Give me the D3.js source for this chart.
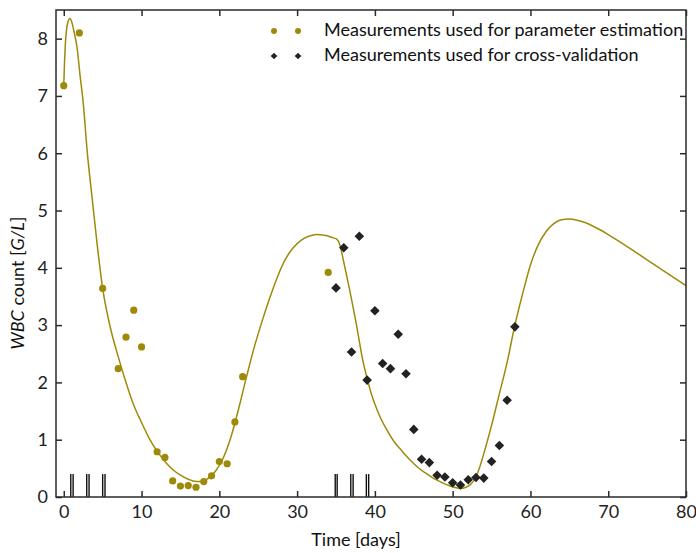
<!DOCTYPE html>
<html><head><meta charset="utf-8">
<script src="https://cdn.jsdelivr.net/npm/d3@7"></script>
<style>
html,body{margin:0;padding:0;background:#fff;}
svg{display:block;font-family:Lato,"Open Sans",sans-serif;}
</style></head>
<body><svg id="c" width="696" height="553"></svg>
<script>
// Parameter-estimation measurements (olive circles)
const estDays = [0,2,5,7,8,9,10,12,13,14,15,16,17,18,19,20,21,22,23,34];
const estWBC  = [7.18,8.1,3.64,2.24,2.79,3.26,2.62,0.79,0.69,0.28,0.19,0.2,0.17,0.27,0.37,0.62,0.58,1.31,2.1,3.92];
// Cross-validation measurements (black diamonds)
const cvDays = [35,36,37,38,39,40,41,42,43,44,45,46,47,48,49,50,51,52,53,54,55,56,57,58];
const cvWBC  = [3.65,4.35,2.53,4.55,2.04,3.25,2.33,2.24,2.84,2.15,1.18,0.66,0.6,0.38,0.35,0.25,0.21,0.3,0.34,0.33,0.62,0.9,1.69,2.97];
// Model simulation (olive line)
const modelDays = [0,0.1,0.2,0.35,0.55,0.8,1.05,1.35,1.7,2.1,2.5,3.0,3.7,4.3,5,6,7,8,9,10,11,12,13,14,15,16,17,17.8,18.5,19.5,20.5,21.5,22.5,23.5,24.5,25.5,26.5,27.5,28.5,29.5,30.5,31.5,32.5,33.5,34.5,35.1,35.5,36,36.5,37.5,38.5,39.5,40.5,41.5,42.5,43.5,44.5,45.5,46.5,47.5,48.5,49.5,50.5,51,51.7,52.3,53,53.5,54.2,55,56,57,58,59,60,61,62,63,64,65,66,67,68,69,70,72,75,78,80];
const modelWBC  = [7.2,7.6,7.9,8.15,8.3,8.35,8.28,8.1,7.85,7.35,6.88,6.05,5.15,4.4,3.64,2.95,2.45,2.0,1.6,1.3,1.02,0.8,0.62,0.48,0.38,0.31,0.27,0.27,0.32,0.45,0.68,1.05,1.55,2.1,2.62,3.07,3.48,3.85,4.15,4.35,4.48,4.55,4.58,4.57,4.53,4.5,4.4,4.1,3.78,3.1,2.35,1.82,1.45,1.18,0.96,0.8,0.65,0.52,0.42,0.33,0.26,0.2,0.16,0.15,0.17,0.22,0.35,0.53,0.85,1.25,1.8,2.35,3.0,3.55,4.05,4.4,4.63,4.77,4.84,4.85,4.83,4.79,4.73,4.66,4.58,4.41,4.14,3.87,3.69];
// Treatment days (rug marks)
const doseDays = [0.9,1.2,2.95,3.25,5.0,5.3,34.9,35.15,36.9,37.2,38.9,39.2];
const doseHeight = 0.4;
const xTicks = [0,10,20,30,40,50,60,70,80];
const yTicks = [0,1,2,3,4,5,6,7,8];
const legendLabels = ["Measurements used for parameter estimation","Measurements used for cross-validation"];

const olive = "#9e8a08", dark = "#222222", axisCol = "#2a2a2a";
const svg = d3.select("#c");
const L=56,R=686,T=10,B=497;
const x = d3.scaleLinear().domain([-1,80]).range([L,R]);
const y = d3.scaleLinear().domain([0,8.5]).range([B,T]);

// axes
const gB = svg.append("g").attr("transform",`translate(0,${B})`)
  .call(d3.axisBottom(x).tickValues(xTicks).tickSizeInner(-6).tickSizeOuter(0).tickPadding(8));
const gL = svg.append("g").attr("transform",`translate(${L},0)`)
  .call(d3.axisLeft(y).tickValues(yTicks).tickSizeInner(-6).tickSizeOuter(0).tickPadding(8));
const gT = svg.append("g").attr("transform",`translate(0,${T})`)
  .call(d3.axisTop(x).tickValues(xTicks).tickSizeInner(-6).tickSizeOuter(0).tickFormat(""));
const gR = svg.append("g").attr("transform",`translate(${R},0)`)
  .call(d3.axisRight(y).tickValues(yTicks).tickSizeInner(-6).tickSizeOuter(0).tickFormat(""));
[gB,gL,gT,gR].forEach(g=>{
  g.select(".domain").remove();
  g.selectAll(".tick line").attr("stroke",axisCol).attr("stroke-width",1.5);
  g.selectAll(".tick text").attr("fill","#222").style("font-size","18px").style("font-family","Lato,sans-serif");
});

// rug marks
svg.append("g").selectAll("line").data(doseDays).join("line")
  .attr("x1",d=>x(d)).attr("x2",d=>x(d)).attr("y1",y(0)).attr("y2",y(doseHeight))
  .attr("stroke","#111").attr("stroke-width",1.4);

// model line
const line = d3.line().x(d=>x(d[0])).y(d=>y(d[1])).curve(d3.curveMonotoneX);
svg.append("path").datum(modelDays.map((d,i)=>[d,modelWBC[i]]))
  .attr("d",line).attr("fill","none").attr("stroke",olive).attr("stroke-width",1.5);

// estimation points
svg.append("g").selectAll("circle").data(estDays.map((d,i)=>[d,estWBC[i]])).join("circle")
  .attr("cx",d=>x(d[0])).attr("cy",d=>y(d[1])).attr("r",3.6).attr("fill",olive);

// cv diamonds
svg.append("g").selectAll("path").data(cvDays.map((d,i)=>[d,cvWBC[i]])).join("path")
  .attr("d",d3.symbol().type(d3.symbolSquare).size(46))
  .attr("transform",d=>`translate(${x(d[0])},${y(d[1])}) rotate(45)`)
  .attr("fill",dark);

// frame
svg.append("rect").attr("x",L).attr("y",T).attr("width",R-L).attr("height",B-T)
  .attr("fill","none").attr("stroke",axisCol).attr("stroke-width",1.5);

// legend
const lg = svg.append("g");
[274,298].forEach(px=>{
  lg.append("circle").attr("cx",px).attr("cy",31).attr("r",3).attr("fill",olive);
  lg.append("path").attr("d",d3.symbol().type(d3.symbolSquare).size(22)())
    .attr("transform",`translate(${px},56) rotate(45)`).attr("fill",dark);
});
legendLabels.forEach((t,i)=>{
  lg.append("text").attr("x",324).attr("y",30+25*i).attr("dy","0.35em")
    .style("font-size","18px").attr("fill","#111").text(t);
});

// axis labels
svg.append("text").attr("x",356).attr("y",540).attr("dy","0.35em").attr("text-anchor","middle")
  .style("font-size","18px").attr("fill","#111").text("Time [days]");
const yl = svg.append("text").attr("transform","translate(18,283) rotate(-90)")
  .attr("text-anchor","middle").attr("dy","0.35em").style("font-size","18px").attr("fill","#111");
yl.append("tspan").style("font-style","italic").text("WBC");
yl.append("tspan").text(" count [");
yl.append("tspan").style("font-style","italic").text("G/L");
yl.append("tspan").text("]");
</script></body></html>
